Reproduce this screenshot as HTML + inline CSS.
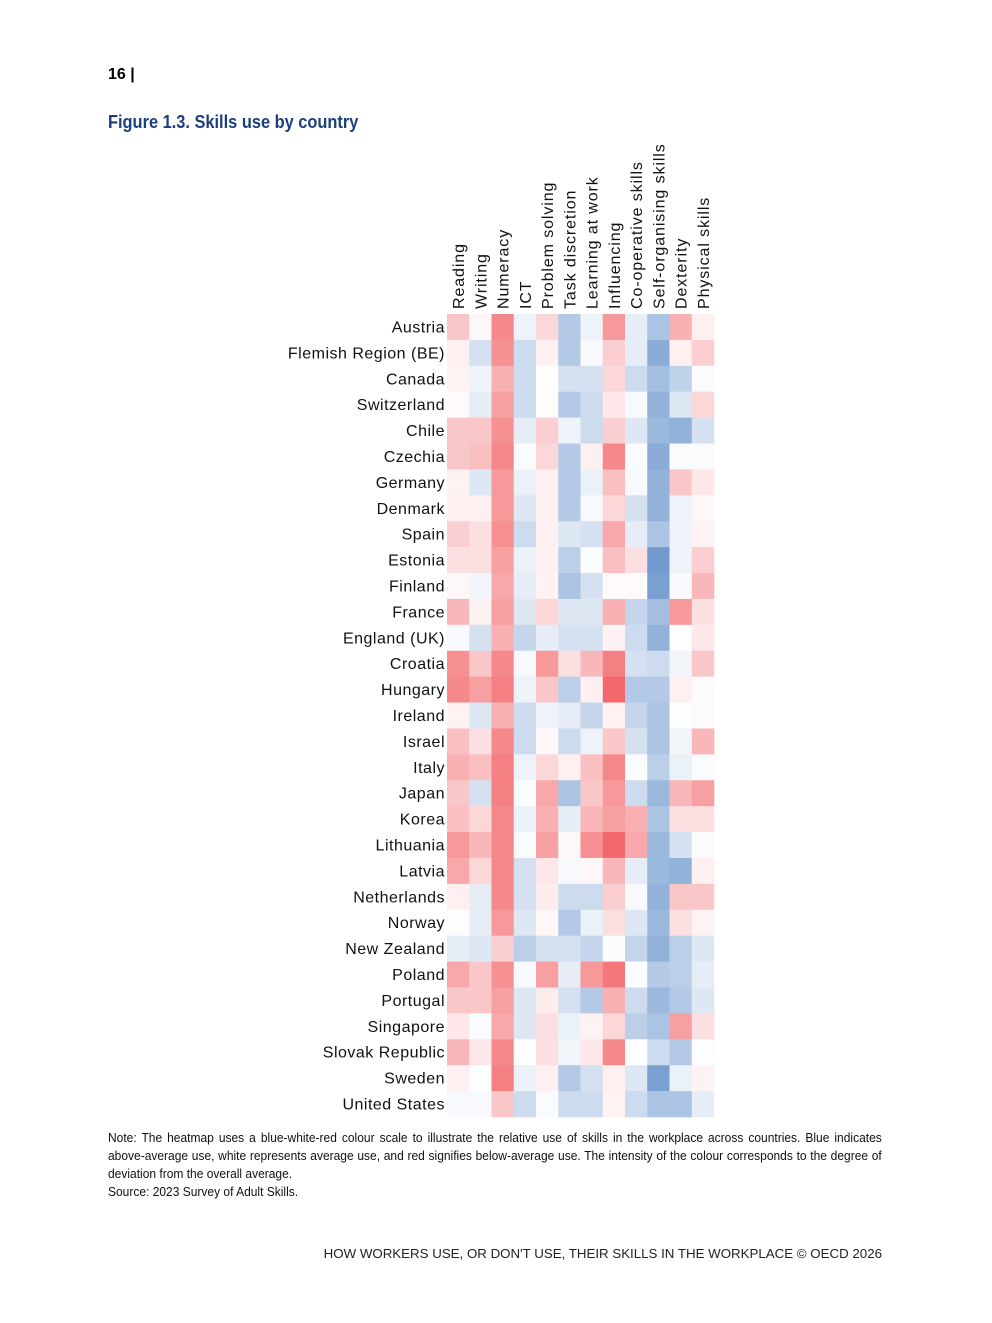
<!DOCTYPE html>
<html><head><meta charset="utf-8">
<style>
body{margin:0;background:#fff;width:992px;height:1323px;position:relative;font-family:"Liberation Sans",sans-serif;overflow:hidden}
.abs{position:absolute}
#pg{left:108px;top:66px;font-weight:bold;font-size:16px;color:#000}
#title{left:108px;top:112px;font-weight:bold;font-size:18px;color:#1b3f7c;transform:scaleX(0.91);transform-origin:left top;white-space:nowrap}
#note{left:108px;top:1129px;width:806px;font-size:12.5px;line-height:18px;color:#111;transform:scaleX(0.96);transform-origin:left top;text-align:justify}
#foot{right:110px;top:1246px;font-size:13.3px;color:#222;white-space:nowrap}
</style></head><body>
<div id="pg" class="abs">16 |</div>
<div id="title" class="abs">Figure 1.3. Skills use by country</div>
<svg id="chart" class="abs" style="left:0;top:0" width="992" height="1323"></svg>
<div id="note" class="abs">Note: The heatmap uses a blue-white-red colour scale to illustrate the relative use of skills in the workplace across countries. Blue indicates above-average use, white represents average use, and red signifies below-average use. The intensity of the colour corresponds to the degree of deviation from the overall average.<br>Source: 2023 Survey of Adult Skills.</div>
<div id="foot" class="abs">HOW WORKERS USE, OR DON'T USE, THEIR SKILLS IN THE WORKPLACE © OECD 2026</div>
<script>
const skills=["Reading","Writing","Numeracy","ICT","Problem solving","Task discretion","Learning at work","Influencing","Co-operative skills","Self-organising skills","Dexterity","Physical skills"];
const countries=["Austria","Flemish Region (BE)","Canada","Switzerland","Chile","Czechia","Germany","Denmark","Spain","Estonia","Finland","France","England (UK)","Croatia","Hungary","Ireland","Israel","Italy","Japan","Korea","Lithuania","Latvia","Netherlands","Norway","New Zealand","Poland","Portugal","Singapore","Slovak Republic","Sweden","United States"];
const values=[
[-0.35,-0.05,-0.75,0.1,-0.25,0.45,0.1,-0.65,0.15,0.5,-0.5,-0.1],
[-0.1,0.25,-0.7,0.3,-0.1,0.45,0.05,-0.3,0.15,0.7,-0.1,-0.3],
[-0.08,0.1,-0.5,0.3,-0.02,0.25,0.25,-0.25,0.3,0.55,0.38,0.03],
[-0.03,0.15,-0.6,0.3,-0.02,0.45,0.3,-0.15,0.05,0.65,0.2,-0.25],
[-0.35,-0.35,-0.7,0.15,-0.3,0.1,0.3,-0.3,0.2,0.6,0.65,0.25],
[-0.35,-0.4,-0.75,0.03,-0.25,0.45,-0.1,-0.75,0.03,0.7,0.03,0.03],
[-0.08,0.2,-0.65,0.12,-0.1,0.45,0.12,-0.4,0.05,0.65,-0.35,-0.15],
[-0.1,-0.1,-0.65,0.2,-0.1,0.45,0.05,-0.25,0.25,0.65,0.1,-0.05],
[-0.3,-0.2,-0.7,0.3,-0.1,0.2,0.25,-0.55,0.15,0.5,0.1,-0.08],
[-0.2,-0.2,-0.6,0.12,-0.1,0.4,0.03,-0.4,-0.2,0.85,0.1,-0.3],
[-0.05,0.08,-0.55,0.15,-0.08,0.5,0.25,-0.03,-0.03,0.8,0.05,-0.45],
[-0.45,-0.08,-0.6,0.2,-0.25,0.2,0.2,-0.5,0.35,0.55,-0.65,-0.2],
[0.05,0.25,-0.5,0.35,0.15,0.25,0.25,-0.08,0.3,0.65,0.02,-0.15],
[-0.7,-0.35,-0.75,0.05,-0.65,-0.2,-0.45,-0.8,0.25,0.3,0.08,-0.35],
[-0.75,-0.6,-0.8,0.1,-0.35,0.4,-0.1,-0.95,0.45,0.45,-0.1,-0.03],
[-0.08,0.2,-0.5,0.3,0.1,0.15,0.35,-0.08,0.35,0.5,0.02,-0.03],
[-0.4,-0.2,-0.75,0.3,-0.05,0.3,0.1,-0.35,0.25,0.5,0.08,-0.45],
[-0.5,-0.4,-0.8,0.1,-0.25,-0.1,-0.4,-0.75,0.03,0.4,0.12,0.03],
[-0.35,0.25,-0.8,0.03,-0.55,0.5,-0.35,-0.65,0.3,0.6,-0.45,-0.6],
[-0.4,-0.25,-0.75,0.12,-0.5,0.15,-0.45,-0.6,-0.5,0.5,-0.2,-0.2],
[-0.65,-0.45,-0.75,0.03,-0.6,-0.05,-0.7,-0.95,-0.55,0.6,0.25,0.03],
[-0.55,-0.25,-0.75,0.25,-0.15,0.05,-0.05,-0.45,0.15,0.6,0.65,-0.1],
[-0.1,0.15,-0.75,0.25,-0.12,0.3,0.3,-0.3,0.05,0.65,-0.35,-0.35],
[-0.02,0.15,-0.65,0.2,-0.05,0.45,0.12,-0.2,0.2,0.6,-0.2,-0.08],
[0.15,0.2,-0.3,0.4,0.25,0.25,0.35,0.03,0.35,0.65,0.4,0.2],
[-0.55,-0.35,-0.7,0.05,-0.6,0.15,-0.65,-0.85,0.02,0.45,0.4,0.15],
[-0.35,-0.35,-0.6,0.2,-0.12,0.25,0.45,-0.5,0.3,0.6,0.45,0.2],
[-0.15,0.03,-0.55,0.2,-0.2,0.12,-0.08,-0.25,0.4,0.5,-0.6,-0.2],
[-0.45,-0.15,-0.75,0.0,-0.2,0.08,-0.15,-0.75,0.0,0.3,0.45,0.02],
[-0.1,0.02,-0.8,0.12,-0.1,0.45,0.25,-0.1,0.2,0.8,0.12,-0.08],
[0.05,0.05,-0.35,0.3,0.03,0.3,0.3,-0.08,0.3,0.5,0.5,0.15]
];
const NS="http://www.w3.org/2000/svg";
const svg=document.getElementById('chart');
const x0=447,x1=714,y0=314,y1=1117;
const cw=(x1-x0)/skills.length, ch=(y1-y0)/countries.length;
const xPos=i=>x0+i*cw, yPos=j=>y0+j*ch;
function color(v){
  const t=Math.min(1,Math.abs(v));
  const end=v<0?[242,96,100]:[88,136,198];
  const c=end.map(e=>Math.round(255+(e-255)*t));
  return `rgb(${c[0]},${c[1]},${c[2]})`;
}
countries.forEach((c,j)=>{
  const t=document.createElementNS(NS,'text');
  t.setAttribute('x',x0-2);t.setAttribute('y',yPos(j)+ch/2+5.5);
  t.setAttribute('text-anchor','end');t.setAttribute('font-size','16');
  t.setAttribute('letter-spacing','0.5');t.setAttribute('fill','#111');
  t.setAttribute('font-family','Liberation Sans, sans-serif');
  t.textContent=c;
  
  
  svg.appendChild(t);
  skills.forEach((s,i)=>{
    const r=document.createElementNS(NS,'rect');
    r.setAttribute('x',xPos(i));r.setAttribute('y',yPos(j));
    r.setAttribute('width',cw+0.3);r.setAttribute('height',ch+0.3);
    r.setAttribute('fill',color(values[j][i]));
    
    
    svg.appendChild(r);
  });
});
skills.forEach((s,i)=>{
  const t=document.createElementNS(NS,'text');
  const cx=xPos(i)+cw/2+6, cy=309;
  t.setAttribute('transform',`translate(${cx},${cy}) rotate(-90)`);
  t.setAttribute('font-size','16');t.setAttribute('fill','#111');
  t.setAttribute('letter-spacing','0.9');
  t.setAttribute('font-family','Liberation Sans, sans-serif');
  t.textContent=s;
  
  
  svg.appendChild(t);
});
</script>
</body></html>
